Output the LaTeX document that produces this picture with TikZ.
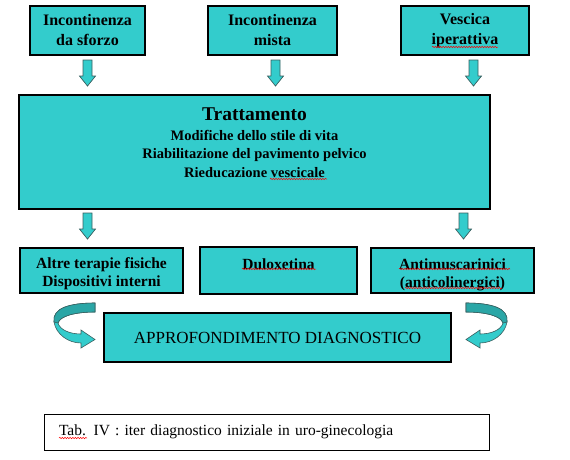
\documentclass[tikz,border=0pt]{standalone}
\usepackage{fontspec}
\setmainfont{Liberation Serif}
\usetikzlibrary{decorations.pathmorphing}
\definecolor{tq}{HTML}{33CCCC}
\definecolor{tqdark}{HTML}{2AA6A6}
\definecolor{arredge}{HTML}{3A5F5F}
\newcommand\blkarrow[3]{%
  \coordinate (#1) at (#2,#3);
  \path[blk,shift={(#1)}] (-4.5,0) -- (-4.5,16) -- (-8,16) -- (0,26) -- (8,16) -- (4.5,16) -- (4.5,0) -- cycle;}
\newcommand\lowstrut{\rule{0pt}{17pt}}
\begin{document}
\begin{tikzpicture}[x=1pt,y=-1pt,
  box/.style={draw=black,line width=1.1pt,fill=tq,inner sep=0pt,align=center,
    font=\fontsize{16}{20}\selectfont\bfseries},
  midbox/.style={box,minimum height=45pt,font=\fontsize{15.5}{18.5}\selectfont\bfseries},
  blk/.style={draw=arredge,line width=0.7pt,fill=tq},
  curv/.style={draw=arredge,line width=0.6pt,fill=tq},
  curvdark/.style={draw=arredge,line width=0.6pt,fill=tqdark},
  wave/.style={red,line width=0.5pt,decorate,decoration={snake,amplitude=0.7pt,segment length=2.6pt}}]
\useasboundingbox (0,0) rectangle (570,459);
% top row
\node[box,minimum width=115pt,minimum height=49pt] (b1) at (87.5,30.5) {Incontinenza\\da sforzo};
\node[box,minimum width=129pt,minimum height=49pt] (b2) at (272.5,30.5) {Incontinenza\\mista};
\node[box,minimum width=128pt,minimum height=49pt] (b3) at (465,30.5) {Vescica\\iperattiva};
% arrows top
\blkarrow{a1}{87.5}{60}
\blkarrow{a2}{275.5}{60}
\blkarrow{a3}{473.5}{60}
% big box
\node[box,minimum width=471pt,minimum height=114pt] (big) at (254.5,152) {};
\node[align=center,inner sep=0pt,anchor=north,font=\fontsize{14.5}{18.5}\selectfont\bfseries] (tt) at (254.5,108)
  {{\fontsize{19.5}{22}\selectfont Trattamento}\\[1pt]Modifiche dello stile di vita\\Riabilitazione del pavimento pelvico\\Rieducazione vescicale};
% arrows middle
\blkarrow{a4}{87.5}{213}
\blkarrow{a5}{463.5}{213}
% middle row
\node[midbox,minimum width=163pt] (m1) at (101.5,270.5) {\lowstrut Altre terapie fisiche\\Dispositivi interni};
\node[midbox,minimum width=157pt,minimum height=47pt] (m2) at (278.5,270.5) {\lowstrut Duloxetina\\\mbox{}};
\node[midbox,minimum width=163pt] (m3) at (452.5,270.5) {\rule{0pt}{19pt}Antimuscarinici\\(anticolinergici)};
% approfondimento
\node[box,minimum width=347pt,minimum height=49pt,font=\fontsize{17}{20}\selectfont] (ap) at (277.5,337.5) {APPROFONDIMENTO DIAGNOSTICO};
% curved arrows
\path[curv] (95,303) .. controls (70,303) and (52,308) .. (54,322)
  .. controls (56,334) and (68,343) .. (81,343) -- (81,348) -- (95,339.5) -- (81,330) -- (81,334)
  .. controls (70,334) and (60,330) .. (58,323)
  .. controls (60,316) and (75,312) .. (95,312) -- cycle;
\path[curvdark] (95,303) .. controls (70,303) and (52,308) .. (54,322) -- (58,323)
  .. controls (60,316) and (75,312) .. (95,312) -- cycle;
\begin{scope}[xshift=561pt,xscale=-1]
\path[curv] (95,303) .. controls (70,303) and (52,308) .. (54,322)
  .. controls (56,334) and (68,343) .. (81,343) -- (81,348) -- (95,339.5) -- (81,330) -- (81,334)
  .. controls (70,334) and (60,330) .. (58,323)
  .. controls (60,316) and (75,312) .. (95,312) -- cycle;
\path[curvdark] (95,303) .. controls (70,303) and (52,308) .. (54,322) -- (58,323)
  .. controls (60,316) and (75,312) .. (95,312) -- cycle;
\end{scope}
% caption
\node[draw=black,line width=0.9pt,fill=white,minimum height=36pt,text width=415pt,inner xsep=15pt,inner ysep=0pt,align=left,
  font=\fontsize{15.5}{18}\selectfont] (cap) at (266.5,432) {Tab. IV : iter diagnostico iniziale in uro-ginecologia};
% spell-check underlines
\draw[wave] (432,47) -- (498,47);
\draw[wave] (270,179) -- (327,179);
\draw[wave] (242,269) -- (316,269);
\draw[wave] (399,269) -- (510,269);
\draw[wave] (405,288) -- (502,288);
\draw[wave] (59,438) -- (87,438);
\end{tikzpicture}
\end{document}
